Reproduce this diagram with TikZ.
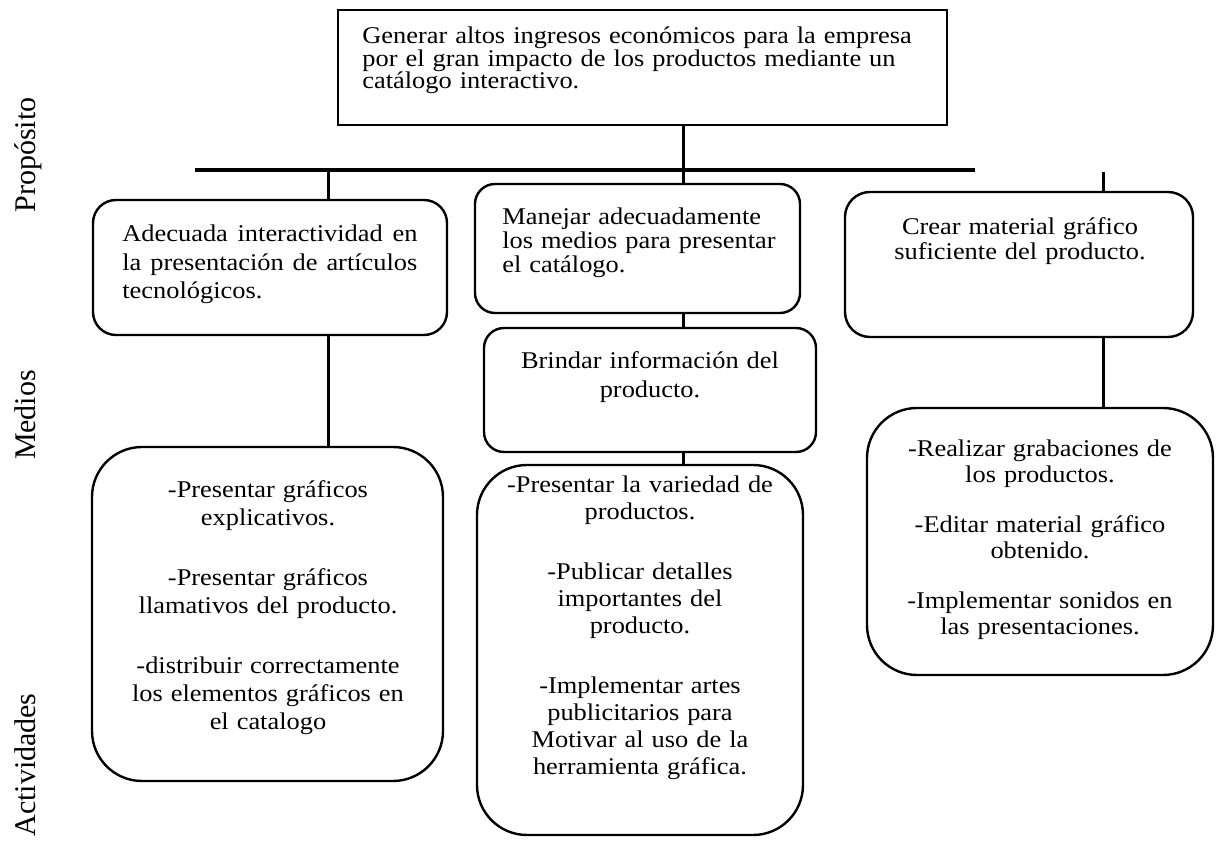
\documentclass[tikz,border=0pt]{standalone}
\usepackage{fontspec}
\setmainfont{Liberation Serif}[FakeStretch=1.1]
\newfontfamily\labfont{Liberation Serif}
\usetikzlibrary{fit}
\begin{document}
\begin{tikzpicture}[x=0.5pt,y=-0.5pt,
  rbox/.style={draw, line width=1.2pt, inner sep=0pt, rounded corners=#1},
  sqbox/.style={draw, line width=1.3pt, inner sep=0pt},
  conn/.style={line width=1.5pt},
  barline/.style={line width=2.2pt},
  txt/.style={inner sep=0pt, anchor=base},
  lab/.style={inner sep=0pt, anchor=base, rotate=90, font=\labfont\fontsize{15}{17}\selectfont}]
\useasboundingbox (0,0) rectangle (1221,849);

% side labels
\node[lab] (lp) at (35,155) {Propósito};
\node[lab] (lm) at (35,415) {Medios};
\node[lab] (la) at (35,765) {Actividades};

% boxes
\node[sqbox, fit={(338,10) (947,125)}] (top) {};
\node[rbox=11.5pt, fit={(93,200) (447,335)}] (b1) {};
\node[rbox=25pt, fit={(92,447) (443,781)}] (b1b) {};
\node[rbox=10pt, fit={(475,184) (800,313)}] (mt) {};
\node[rbox=10pt, fit={(484,328) (816,452)}] (mm) {};
\node[rbox=25pt, fit={(477,465) (803,835)}] (mb) {};
\node[rbox=12.5pt, fit={(845,192) (1193,337)}] (b3) {};
\node[rbox=25pt, fit={(867,408) (1213,675)}] (b3b) {};

% texts
\node[txt, anchor=base west, text width=300pt, align=left, font=\fontsize{12}{11.1}\selectfont] (t0) at (362,44)
  {Generar altos ingresos económicos para la empresa\\por el gran impacto de los productos mediante un\\catálogo interactivo.};
\node[txt, anchor=base west, text width=147.5pt, align=justify, font=\fontsize{12}{14.25}\selectfont] (t1) at (122,242)
  {Adecuada interactividad en\linebreak la presentación de artículos\linebreak tecnológicos.};
\node[txt, text width=165pt, align=center, font=\fontsize{12}{14}\selectfont] (t1b) at (268,498)
  {-Presentar gráficos\\explicativos.\\[16pt]-Presentar gráficos\\llamativos del producto.\\[16pt]-distribuir correctamente\\los elementos gráficos en\\el catalogo};
\node[txt, anchor=base west, text width=150pt, align=left, font=\fontsize{12}{10.75}\selectfont] (tmt) at (502,225)
  {Manejar adecuadamente\\los medios para presentar\\el catálogo.};
\node[txt, text width=160pt, align=center, font=\fontsize{12}{14.5}\selectfont] (tmm) at (650,369)
  {Brindar información del\\producto.};
\node[txt, text width=160pt, align=center, font=\fontsize{12}{13.5}\selectfont] (tmb) at (640,493)
  {-Presentar la variedad de\\productos.\\[16.5pt]-Publicar detalles\\importantes del\\producto.\\[16.5pt]-Implementar artes\\publicitarios para\\Motivar al uso de la\\herramienta gráfica.};
\node[txt, text width=170pt, align=center, font=\fontsize{12}{12.5}\selectfont] (t3) at (1020,235)
  {Crear material gráfico\\suficiente del producto.};
\node[txt, text width=170pt, align=center, font=\fontsize{12}{13}\selectfont] (t3b) at (1040,457)
  {-Realizar grabaciones de\\los productos.\\[12pt]-Editar material gráfico\\obtenido.\\[12pt]-Implementar sonidos en\\las presentaciones.};

% connectors
\coordinate (barL) at (195,170);
\coordinate (barR) at (975,170);
\coordinate (lx) at (328,170);
\coordinate (cx) at (683,170);
\coordinate (rx) at (1103,172);
\draw[barline] (barL) -- (barR);
\draw[conn] (cx |- top.south) -- (cx |- mt.north);
\draw[conn] (lx) -- (lx |- b1.north);
\draw[conn] (lx |- b1.south) -- (lx |- b1b.north);
\draw[conn] (cx |- mt.south) -- (cx |- mm.north);
\draw[conn] (cx |- mm.south) -- (cx |- mb.north);
\draw[conn] (rx) -- (rx |- b3.north);
\draw[conn] (rx |- b3.south) -- (rx |- b3b.north);
\end{tikzpicture}
\end{document}
